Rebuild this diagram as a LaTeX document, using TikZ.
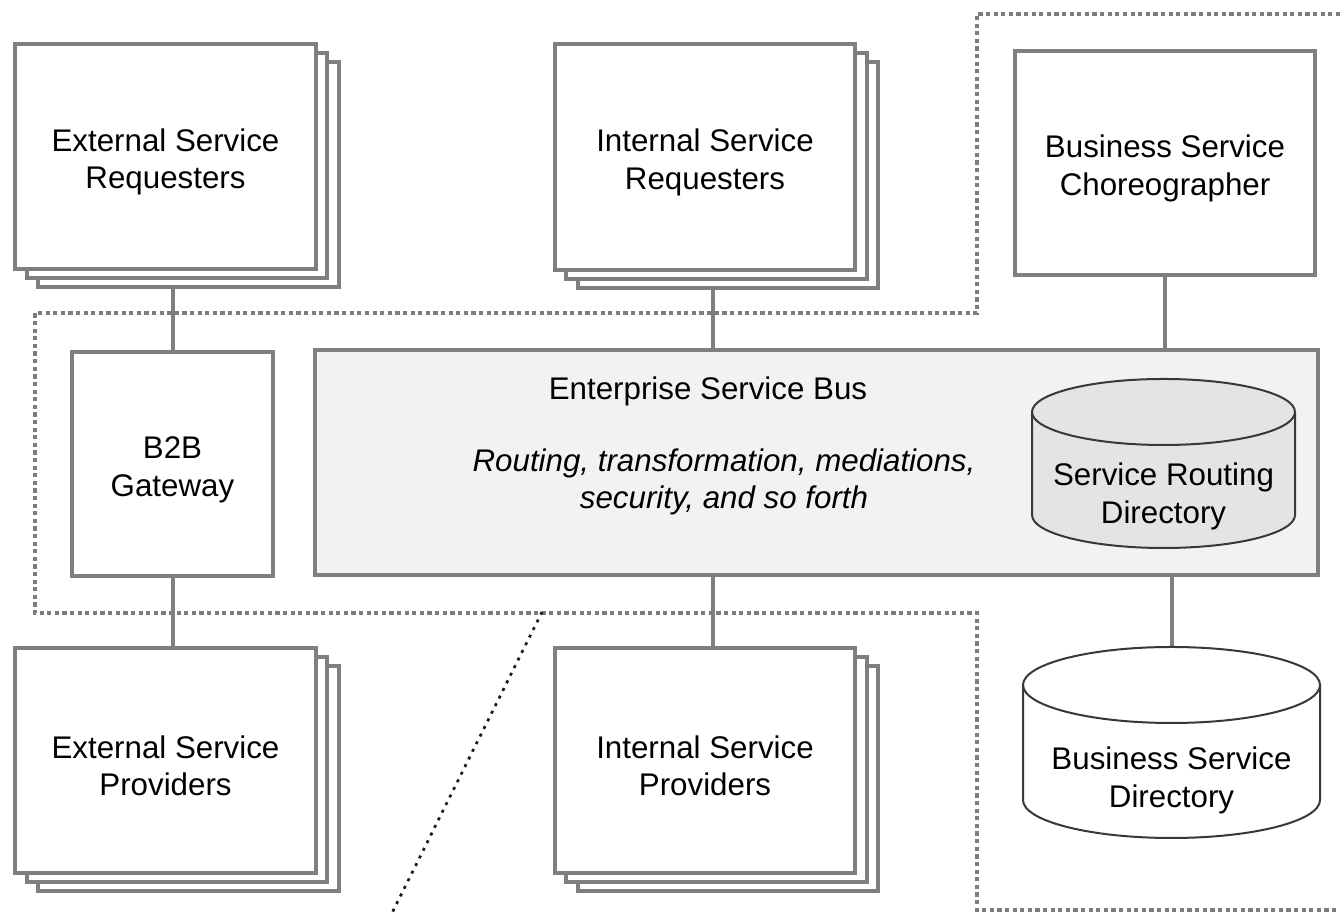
\documentclass[tikz,border=0pt]{standalone}
\usepackage{fontspec}
\setmainfont{Liberation Sans}
\usetikzlibrary{calc,shadows,backgrounds}

\definecolor{boxgray}{HTML}{7F7F7F}
\definecolor{esbfill}{HTML}{F2F2F2}
\definecolor{dirfill}{HTML}{E4E4E4}
\definecolor{cylline}{HTML}{383838}
\definecolor{dotgray}{HTML}{7C7C7C}
\newcommand\diagfont{\fontsize{8.9}{10.7}\selectfont}

\begin{document}
\begin{tikzpicture}[x=0.01cm, y=0.01cm,
		box/.style={draw=boxgray, line width=0.4mm, fill=white, align=center, outer sep=0pt,
			minimum width=3cm, minimum height=2.25cm, font=\diagfont, text height=20.2pt},
		stackbox/.style={box,
			copy shadow={shadow xshift=2.3mm, shadow yshift=-1.8mm, draw=boxgray, line width=0.4mm, fill=white},
			copy shadow={shadow xshift=1.15mm, shadow yshift=-0.9mm, draw=boxgray, line width=0.4mm, fill=white}},
		dirtext/.style={align=center, outer sep=0pt, inner sep=0pt, font=\diagfont},
		cyl/.style={draw=cylline, line width=0.2mm},
		link/.style={draw=boxgray, line width=0.4mm},
		region/.style={draw=dotgray, line width=0.4mm, dash pattern=on 0.42mm off 0.34mm},
		cutline/.style={draw=black!90, line width=0.27mm, dash pattern=on 0.3mm off 0.55mm}]
		
		\useasboundingbox (0,0) rectangle (1340,913);
		
		% Draw the requester, gateway and provider boxes
		\node[stackbox] (ereq) at (165.5,756.5) {External Service\\Requesters};
		\node[stackbox] (ireq) at (705,756) {Internal Service\\Requesters};
		\node[box, minimum height=2.24cm] (chor) at (1165,750) {Business Service\\Choreographer};
		\node[box, minimum width=2.01cm, minimum height=2.24cm] (gw) at (172.5,449) {B2B\\Gateway};
		\node[stackbox] (eprov) at (165.5,152.5) {External Service\\Providers};
		\node[stackbox] (iprov) at (705,152.5) {Internal Service\\Providers};
		
		% Draw the bus
		\node[box, fill=esbfill, minimum width=10.03cm] (esb) at (816.5,450.5) {};
		\node[font=\diagfont, anchor=base] (esbname) at (708,513) {Enterprise Service Bus};
		\node[font=\diagfont\itshape, align=center] (esbtasks) at (724,431)
			{Routing, transformation, mediations,\\security, and so forth};
		
		% Draw the service routing directory
		\coordinate (rdirc) at (1163.5,416.5);
		\filldraw[cyl, fill=dirfill] ($(rdirc)+(-131.5,84.5)$) -- ++(0,-103)
			arc[start angle=180, end angle=360, x radius=131.5, y radius=33] -- ++(0,103)
			arc[start angle=0, end angle=180, x radius=131.5, y radius=33] -- cycle;
		\draw[cyl] ($(rdirc)+(131.5,84.5)$) arc[start angle=0, end angle=-180, x radius=131.5, y radius=33];
		\node[dirtext, minimum width=2.63cm, minimum height=1.03cm] (rdir) at (rdirc) {Service Routing\\Directory};
		
		% Draw the business service directory
		\coordinate (bdirc) at (1171.5,132.5);
		\filldraw[cyl, fill=white] ($(bdirc)+(-148.5,95.5)$) -- ++(0,-115)
			arc[start angle=180, end angle=360, x radius=148.5, y radius=38] -- ++(0,115)
			arc[start angle=0, end angle=180, x radius=148.5, y radius=38] -- cycle;
		\draw[cyl] ($(bdirc)+(148.5,95.5)$) arc[start angle=0, end angle=-180, x radius=148.5, y radius=38];
		\node[dirtext, minimum width=2.97cm, minimum height=1.15cm] (bdir) at (bdirc) {Business Service\\Directory};
		
		% The cut line
		\coordinate (cuttop) at (542,301);
		\coordinate (cutend) at (392,0);
		\draw[cutline] (cuttop) -- (cutend);
		
		\begin{scope}[on background layer]
			% Dotted region
			\draw[region] (1340,899) -- (977,899) -- (977,600) -- (35,600) -- (35,300)
				-- (977,300) -- (977,3) -- (1340,3);
			
			% Draw the links
			\draw[link] (gw.north) -- (gw.north |- ereq.south);
			\draw[link] (gw.south) -- (gw.south |- eprov.north);
			\draw[link] ([xshift=0.08cm]ireq.south) -- ([xshift=0.08cm]ireq.south |- esb.north);
			\draw[link] ([xshift=0.08cm]iprov.north) -- ([xshift=0.08cm]iprov.north |- esb.south);
			\draw[link] (chor.south) -- (chor.south |- esb.north);
			\draw[link] (esb.south -| bdir.north) -- ([yshift=0.76cm]bdir.north);
		\end{scope}
		
	\end{tikzpicture}
\end{document}
